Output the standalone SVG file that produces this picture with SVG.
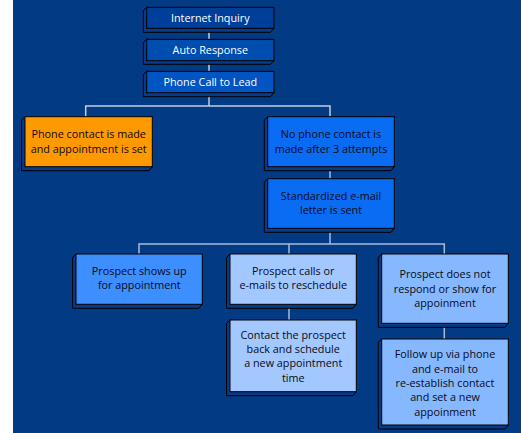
<svg xmlns="http://www.w3.org/2000/svg" width="521" height="433" viewBox="0 0 521 433">
<style>
.side{fill:#083a88;stroke:#000;stroke-width:1}
.face{stroke:#000;stroke-width:1}
.t{font-family:"Open Sans","Liberation Sans",sans-serif;font-size:10.8px;text-anchor:middle;fill:#0a0a14}
.w{fill:#ffffff}
.c{fill:none;stroke:#c4ccdc;stroke-width:1.5}
.c2{fill:none;stroke:#aabcd8;stroke-width:1.5}
</style>
<rect x="0" y="0" width="521" height="433" fill="#ffffff"/>
<rect x="13" y="0" width="508" height="433" fill="#023b84"/>
<g id="connectors">
<path class="c" d="M209 28v11M209 60.7v10.6M209 92.7v13.3M85.7 116.7V106H330v10.7"/>
<path class="c2" d="M330 166.7v12M330 228.3V244M139 254V244H444.3V254M289 244v10M289 304.3V320M444.3 323.3V339"/>
</g>
<g id="n1">
<path class="side" d="M146.7 7.3l-3.4 3.4V32.3H270.6L274 28.3Z"/>
<rect class="face" x="146.7" y="7.3" width="127.3" height="21" fill="#003f99"/>
<text class="t w" x="210.3" y="21.6">Internet Inquiry</text>
</g>
<g id="n2">
<path class="side" d="M146.7 39.3l-3.4 3.4V64.3H270.6L274 60.7Z"/>
<rect class="face" x="146.7" y="39.3" width="127.3" height="21.4" fill="#004db0"/>
<text class="t w" x="210.3" y="53.9">Auto Response</text>
</g>
<g id="n3">
<path class="side" d="M146.7 71.3l-3.4 3.4V96.7H270.6L274 92.7Z"/>
<rect class="face" x="146.7" y="71.3" width="127.3" height="21.4" fill="#0055c2"/>
<text class="t w" x="210.3" y="85.9">Phone Call to Lead</text>
</g>
<g id="n4">
<path class="side" d="M25 116.7l-3.4 3.4V170.7H148.9L152.3 166.7Z"/>
<rect class="face" x="25" y="116.7" width="127.3" height="50" fill="#ff9900"/>
<text class="t" x="88.7" y="138.3">Phone contact is made</text>
<text class="t" x="88.7" y="152.6">and appointment is set</text>
</g>
<g id="n5">
<path class="side" d="M267.7 116.7l-3.4 3.4V170.7H390.9L394.3 166.7Z"/>
<rect class="face" x="267.7" y="116.7" width="126.6" height="50" fill="#0a6cf2"/>
<text class="t" x="331" y="138.3">No phone contact is</text>
<text class="t" x="331" y="152.6">made after 3 attempts</text>
</g>
<g id="n6">
<path class="side" d="M267.7 178.7l-3.4 3.4V232.3H390.9L394.3 228.3Z"/>
<rect class="face" x="267.7" y="178.7" width="126.6" height="49.6" fill="#0a6cf2"/>
<text class="t" x="331" y="200.1">Standardized e-mail</text>
<text class="t" x="331" y="214.4">letter is sent</text>
</g>
<g id="n7">
<path class="side" d="M76 254l-3.4 3.4V308.3H198.9L202.3 304.3Z"/>
<rect class="face" x="76" y="254" width="126.3" height="50.3" fill="#3d8eff"/>
<text class="t" x="139.3" y="275.1">Prospect shows up</text>
<text class="t" x="139.3" y="289.4">for appointment</text>
</g>
<g id="n8">
<path class="side" d="M230 254l-3.4 3.4V308.3H352.9L356.3 304.3Z"/>
<rect class="face" x="230" y="254" width="126.3" height="50.3" fill="#a3c8ff"/>
<text class="t" x="293.2" y="275.1">Prospect calls or</text>
<text class="t" x="293.2" y="289.4">e-mails to reschedule</text>
</g>
<g id="n9">
<path class="side" d="M381.7 254l-3.4 3.4V327.3H504.9L508.3 323.3Z"/>
<rect class="face" x="381.7" y="254" width="126.6" height="69.3" fill="#85b8ff"/>
<text class="t" x="445" y="278.4">Prospect does not</text>
<text class="t" x="445" y="292.8">respond or show for</text>
<text class="t" x="445" y="307.1">appoinment</text>
</g>
<g id="n10">
<path class="side" d="M230 320l-3.4 3.4V395.7H352.9L356.3 391.7Z"/>
<rect class="face" x="230" y="320" width="126.3" height="71.7" fill="#a3c8ff"/>
<text class="t" x="293.2" y="338.8">Contact the prospect</text>
<text class="t" x="293.2" y="353.1">back and schedule</text>
<text class="t" x="293.2" y="367.4">a new appointment</text>
<text class="t" x="293.2" y="381.8">time</text>
</g>
<g id="n11">
<path class="side" d="M381.7 339l-3.4 3.4V429H504.9L508.3 425Z"/>
<rect class="face" x="381.7" y="339" width="126.6" height="86" fill="#85b8ff"/>
<text class="t" x="445" y="358.4">Follow up via phone</text>
<text class="t" x="445" y="372.8">and e-mail to</text>
<text class="t" x="445" y="387.1">re-establish contact</text>
<text class="t" x="445" y="401.4">and set a new</text>
<text class="t" x="445" y="415.8">appoinment</text>
</g>
</svg>
